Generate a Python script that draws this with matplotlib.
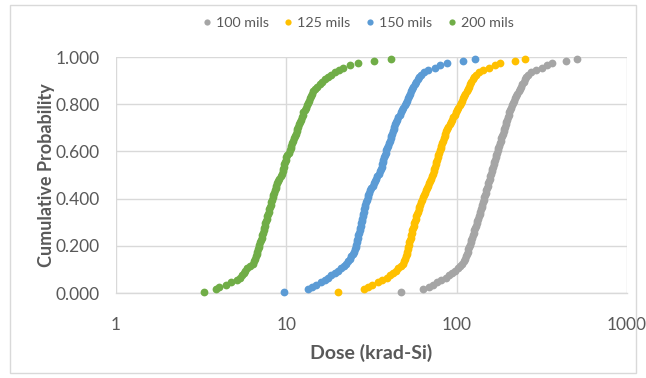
import matplotlib
matplotlib.use("Agg")
import matplotlib.pyplot as plt
from matplotlib.patches import Rectangle

plt.rcParams['font.family'] = ['Lato', 'DejaVu Sans']

# Cumulative probability (median rank position) shared by every sample set
cum_prob = [
    0.005, 0.015, 0.025, 0.035, 0.045, 0.055, 0.065, 0.075, 0.085, 0.095,
    0.105, 0.115, 0.125, 0.135, 0.145, 0.155, 0.165, 0.175, 0.185, 0.195,
    0.205, 0.215, 0.225, 0.235, 0.245, 0.255, 0.265, 0.275, 0.285, 0.295,
    0.305, 0.315, 0.325, 0.335, 0.345, 0.355, 0.365, 0.375, 0.385, 0.395,
    0.405, 0.415, 0.425, 0.435, 0.445, 0.455, 0.465, 0.475, 0.485, 0.495,
    0.505, 0.515, 0.525, 0.535, 0.545, 0.555, 0.565, 0.575, 0.585, 0.595,
    0.605, 0.615, 0.625, 0.635, 0.645, 0.655, 0.665, 0.675, 0.685, 0.695,
    0.705, 0.715, 0.725, 0.735, 0.745, 0.755, 0.765, 0.775, 0.785, 0.795,
    0.805, 0.815, 0.825, 0.835, 0.845, 0.855, 0.865, 0.875, 0.885, 0.895,
    0.905, 0.915, 0.925, 0.935, 0.945, 0.955, 0.965, 0.975, 0.985, 0.992,
]

# Dose (krad-Si) for each shielding thickness, sorted ascending
dose_100 = [
    47.0, 63.5, 69.0, 73.0, 77.0, 81.0, 86.0, 90.0, 94.0, 98.0,
    101.5, 104.5, 107.5, 110.0, 112.0, 113.5, 114.8, 116.0, 117.2, 118.4,
    119.6, 120.8, 122.0, 123.2, 124.5, 125.8, 127.1, 128.4, 129.7, 131.0,
    132.3, 133.6, 134.9, 136.2, 137.5, 138.8, 140.1, 141.4, 142.7, 144.0,
    145.3, 146.6, 147.9, 149.2, 150.5, 151.8, 153.1, 154.5, 156.0, 157.5,
    159.0, 160.5, 162.0, 163.5, 165.0, 166.5, 168.0, 169.5, 171.0, 172.5,
    174.0, 175.8, 177.6, 179.4, 181.2, 183.0, 184.8, 186.6, 188.4, 190.2,
    192.0, 194.0, 196.0, 198.0, 200.0, 202.0, 204.0, 206.5, 209.0, 211.5,
    214.0, 217.0, 220.0, 223.5, 227.0, 231.0, 235.0, 239.0, 243.0, 247.0,
    252.0, 257.0, 263.0, 275.0, 292.0, 315.0, 340.0, 365.0, 440.0, 510.0,
]
dose_125 = [
    20.0, 28.5, 30.0, 32.0, 34.5, 36.5, 38.8, 40.5, 42.3, 44.0,
    45.5, 47.0, 48.4, 49.3, 49.9, 50.4, 50.8, 51.2, 51.6, 52.0,
    52.4, 52.8, 53.2, 53.6, 54.0, 54.4, 54.9, 55.4, 55.9, 56.4,
    56.9, 57.4, 57.9, 58.5, 59.1, 59.7, 60.4, 61.2, 62.0, 62.8,
    63.6, 64.4, 65.2, 66.0, 66.8, 67.6, 68.4, 69.3, 70.3, 71.3,
    72.4, 73.3, 74.0, 74.6, 75.2, 75.8, 76.5, 77.3, 78.1, 78.9,
    79.7, 80.5, 81.3, 82.2, 83.1, 84.0, 84.9, 85.8, 86.8, 88.0,
    89.3, 90.8, 92.4, 94.0, 95.6, 97.2, 98.8, 100.5, 102.2, 104.0,
    105.7, 107.3, 108.9, 110.7, 112.6, 114.5, 116.4, 118.3, 120.2, 122.2,
    124.4, 127.0, 130.0, 135.0, 143.0, 155.0, 168.0, 180.0, 220.0, 252.0,
]
dose_150 = [
    9.75, 13.4, 14.2, 15.0, 16.0, 16.8, 17.6, 18.4, 19.2, 20.2,
    21.0, 21.8, 22.5, 23.1, 23.6, 24.1, 24.5, 24.9, 25.2, 25.5,
    25.7, 25.9, 26.1, 26.3, 26.5, 26.7, 26.9, 27.1, 27.3, 27.5,
    27.7, 27.9, 28.1, 28.3, 28.5, 28.7, 28.9, 29.1, 29.4, 29.7,
    30.0, 30.3, 30.7, 31.1, 31.6, 32.1, 32.6, 33.1, 33.6, 34.2,
    34.8, 35.4, 35.8, 36.2, 36.5, 36.8, 37.1, 37.5, 37.9, 38.3,
    38.7, 39.1, 39.5, 39.9, 40.4, 40.9, 41.4, 41.8, 42.2, 42.6,
    43.0, 43.5, 44.1, 44.8, 45.5, 46.3, 47.1, 47.9, 48.7, 49.5,
    50.3, 51.1, 51.8, 52.6, 53.3, 54.0, 54.7, 55.6, 56.6, 57.8,
    59.0, 60.3, 62.0, 64.5, 68.0, 74.5, 80.0, 87.5, 108.5, 128.0,
]
dose_200 = [
    3.27, 3.85, 4.05, 4.45, 4.75, 5.1, 5.35, 5.5, 5.62, 5.72,
    5.9, 6.15, 6.35, 6.5, 6.58, 6.65, 6.7, 6.76, 6.82, 6.87,
    6.92, 6.99, 7.08, 7.15, 7.22, 7.3, 7.36, 7.42, 7.48, 7.54,
    7.6, 7.66, 7.72, 7.8, 7.88, 7.95, 8.02, 8.1, 8.17, 8.24,
    8.32, 8.4, 8.48, 8.56, 8.64, 8.72, 8.82, 8.95, 9.1, 9.25,
    9.4, 9.5, 9.6, 9.68, 9.75, 9.82, 9.9, 10.0, 10.15, 10.3,
    10.45, 10.6, 10.72, 10.85, 10.97, 11.1, 11.22, 11.35, 11.48, 11.6,
    11.72, 11.85, 12.0, 12.15, 12.3, 12.45, 12.6, 12.8, 13.0, 13.2,
    13.35, 13.5, 13.7, 13.9, 14.1, 14.4, 14.8, 15.2, 15.7, 16.2,
    16.8, 17.5, 18.3, 19.2, 20.3, 21.6, 23.5, 26.2, 32.6, 41.0,
]

series_labels = ["100 mils", "125 mils", "150 mils", "200 mils"]
series_doses = [dose_100, dose_125, dose_150, dose_200]
series_colors = ["#A5A5A5", "#FFC000", "#5B9BD5", "#70AD47"]

y_ticks = [0.0, 0.2, 0.4, 0.6, 0.8, 1.0]
x_ticks = [1, 10, 100, 1000]

text_color = "#595959"
grid_color = "#D9D9D9"

W, H = 646, 378
fig = plt.figure(figsize=(W / 100, H / 100), dpi=100)
fig.patch.set_facecolor("white")

# chart frame
fig.patches.append(Rectangle((10 / W, 5 / H), 626 / W, 368 / H,
                             transform=fig.transFigure, fill=False,
                             edgecolor=grid_color, linewidth=1.0))

ax = fig.add_axes([116 / W, 1 - 293 / H, (627 - 116) / W, (293 - 57) / H])
ax.set_xscale("log")
ax.set_xlim(1, 1000)
ax.set_ylim(0, 1)

for label, dose, color in zip(series_labels, series_doses, series_colors):
    ax.plot(dose, cum_prob, linestyle="none", marker="o", markersize=5.6,
            markeredgewidth=0, color=color, label=label, clip_on=False, zorder=3)

ax.set_xticks(x_ticks)
ax.set_xticklabels([str(t) for t in x_ticks])
ax.xaxis.set_minor_locator(matplotlib.ticker.NullLocator())
ax.set_yticks(y_ticks)
ax.set_yticklabels([f"{t:.3f}" for t in y_ticks])

ax.grid(True, which="major", color=grid_color, linewidth=1.0, zorder=0)
ax.set_axisbelow(True)
for side in ("top", "right", "left"):
    ax.spines[side].set_visible(False)
ax.spines["bottom"].set_color(grid_color)
ax.spines["bottom"].set_linewidth(1.0)
ax.tick_params(axis="both", length=0, labelsize=12.5, labelcolor=text_color)
ax.tick_params(axis="x", pad=17)
ax.tick_params(axis="y", pad=12)

ax.set_xlabel("Dose (krad-Si)", fontsize=14, fontweight="bold", color=text_color, labelpad=8)
ax.set_ylabel("Cumulative Probability", fontsize=13, fontweight="bold", color=text_color, labelpad=0)

fig.legend(loc="center", bbox_to_anchor=(0.551, 1 - 23 / H), ncol=4, frameon=False,
           fontsize=10.3, labelcolor=text_color, handletextpad=0.05,
           columnspacing=0.75, markerscale=0.8, handlelength=1.2)

fig.savefig("out.png", dpi=100, facecolor="white")
